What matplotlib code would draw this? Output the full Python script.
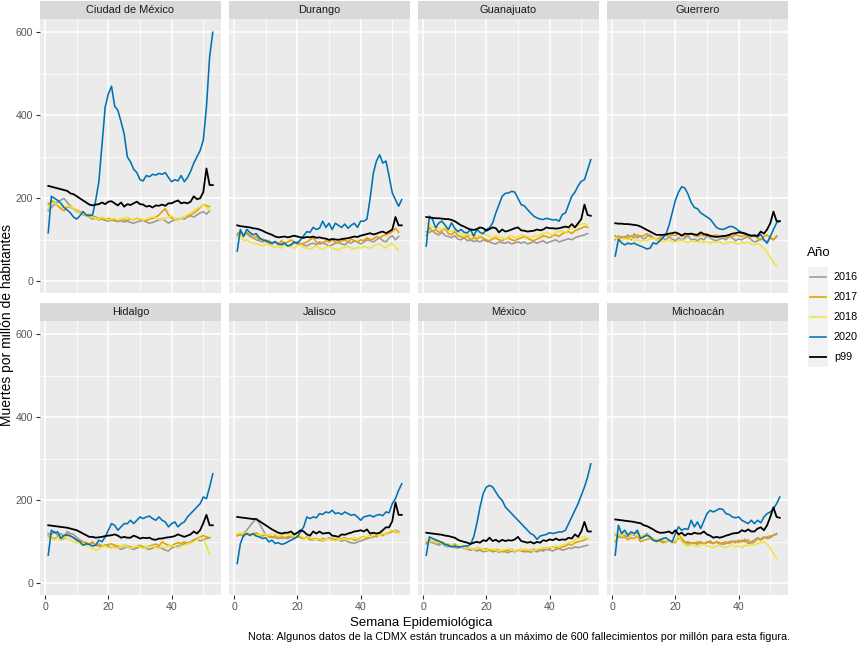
import matplotlib
matplotlib.use("Agg")
import matplotlib.pyplot as plt
from matplotlib.patches import Rectangle
from matplotlib.lines import Line2D
import numpy as np

plt.rcParams['font.family'] = ['Liberation Sans', 'DejaVu Sans']

states = ["Ciudad de México", "Durango", "Guanajuato", "Guerrero",
          "Hidalgo", "Jalisco", "México", "Michoacán"]
series_names = ["2016", "2017", "2018", "2020", "p99"]
colors = ["#999999", "#E69F00", "#F0E442", "#0072B2", "#000000"]

# ---- Ciudad de México ----
cdmx_2016 = [170,178,185,192,196,200,190,182,175,168,165,160,158,155,150,152,148,150,147,145,148,146,144,146,143,145,142,140,143,145,147,143,140,142,145,148,150,146,140,145,148,150,152,150,155,158,155,160,165,168,162,170]
cdmx_2017 = [185,195,190,182,175,170,180,178,175,172,168,165,160,162,158,155,152,150,148,152,150,148,146,150,148,147,150,148,152,150,148,146,150,152,155,160,168,175,160,152,150,148,152,155,158,160,165,170,178,185,182,180]
cdmx_2018 = [175,190,188,185,180,178,182,180,176,170,165,162,160,156,154,152,150,155,152,148,150,152,148,150,152,155,150,148,150,152,148,150,153,155,152,150,148,152,155,158,150,148,152,155,160,165,170,175,180,185,178,172]
cdmx_2020 = [117,205,200,195,188,178,172,165,155,150,158,168,160,158,160,195,240,330,420,452,470,422,412,385,355,300,288,270,262,245,242,255,252,258,256,260,258,262,250,240,245,242,255,240,250,265,285,300,315,340,420,540,600]
cdmx_p99 = [230,228,226,224,222,220,218,212,210,205,200,195,190,185,183,185,186,190,186,192,193,188,183,190,180,186,184,188,192,186,185,180,182,178,183,182,185,182,188,188,192,195,188,190,188,192,205,198,200,215,272,232,232]

# ---- Durango ----
dgo_2016 = [110,118,112,115,108,105,100,98,95,100,92,90,95,88,92,90,85,88,92,95,90,88,85,90,92,88,95,92,90,85,88,92,95,90,88,95,92,98,95,90,95,100,98,95,100,105,98,95,105,110,100,108]
dgo_2017 = [115,120,110,118,112,105,108,100,102,95,98,92,95,90,98,92,95,100,95,90,88,92,95,100,105,95,90,92,98,95,100,95,92,98,100,95,102,98,95,100,98,105,100,102,108,105,110,112,115,120,128,118]
dgo_2018 = [105,112,98,100,95,92,90,88,85,90,88,85,82,85,80,88,85,82,80,85,88,82,80,78,82,85,80,78,82,85,80,78,75,80,82,85,80,78,82,80,85,82,80,85,88,90,85,80,88,92,82,75]
dgo_2020 = [73,125,108,125,118,112,115,105,100,98,95,92,96,90,88,92,85,88,95,92,100,110,120,118,130,125,128,145,130,140,125,140,135,130,138,128,135,140,130,145,145,150,200,260,290,305,285,290,253,213,197,181,197]
dgo_p99 = [135,133,132,131,130,128,127,125,122,118,115,112,108,106,107,108,106,108,110,108,106,105,107,106,108,105,106,104,103,100,102,101,100,102,103,104,106,108,107,110,112,114,116,113,115,118,120,116,120,125,155,135,135]

# ---- Guanajuato ----
gto_2016 = [120,118,122,115,112,118,110,108,105,110,102,100,105,98,100,96,98,95,100,97,95,92,90,95,93,92,95,90,93,95,92,95,90,93,95,92,95,98,92,95,98,100,95,98,100,103,100,105,108,110,112,115]
gto_2017 = [110,130,120,125,118,122,128,115,112,120,110,108,105,110,100,105,102,108,104,100,98,102,105,100,98,102,105,100,98,102,105,108,104,100,98,102,105,110,108,105,110,112,108,115,118,120,115,122,125,128,132,130]
gto_2018 = [140,135,130,132,128,125,130,122,120,125,118,115,112,115,110,112,108,110,115,112,108,105,110,108,105,102,108,110,105,108,112,110,108,105,110,108,112,115,118,115,112,118,120,122,118,125,128,130,135,138,140,135]
gto_2020 = [85,157,149,129,141,145,135,125,141,128,120,125,118,117,125,109,125,118,115,125,129,141,165,185,205,212,213,217,215,200,185,182,173,165,157,153,150,149,152,150,148,149,145,161,165,185,205,215,230,241,245,269,293]
gto_p99 = [155,154,153,152,152,151,150,150,148,145,140,135,132,128,125,124,126,130,128,122,126,130,128,118,125,120,122,125,128,130,123,122,120,121,122,125,123,125,130,128,128,127,128,130,132,130,138,130,140,150,185,160,158]

# ---- Guerrero ----
gro_2016 = [110,100,108,105,112,100,115,105,110,100,108,112,105,100,98,104,100,108,102,98,105,100,104,110,100,102,98,104,100,110,105,100,98,102,104,100,108,105,98,102,100,105,108,100,95,98,102,100,95,105,100,108]
gro_2017 = [100,110,105,108,102,110,105,112,108,110,115,108,104,100,105,110,112,108,112,110,115,112,108,112,115,110,108,112,110,115,108,110,112,108,110,105,110,108,112,110,108,112,105,108,110,104,100,108,112,105,100,110]
gro_2018 = [105,100,98,102,100,105,98,100,96,100,98,102,104,100,98,96,98,100,96,95,98,100,96,94,98,96,95,97,94,96,92,95,94,96,90,92,94,95,92,90,94,92,95,90,88,92,86,80,70,58,45,38]
gro_2020 = [61,101,93,88,92,90,92,88,85,82,78,80,93,90,97,105,113,135,165,195,215,228,225,210,190,178,175,165,160,155,150,140,130,126,125,128,132,132,128,122,118,116,113,110,112,107,113,100,92,108,125,141,145]
gro_p99 = [140,139,139,138,138,137,136,135,132,128,124,120,116,112,112,112,113,115,116,118,115,110,115,114,115,113,112,118,114,112,110,108,107,108,109,110,112,115,116,118,117,115,112,110,110,110,120,115,125,140,168,145,145]

# ---- Hidalgo ----
hgo_2016 = [120,118,125,115,120,112,125,120,118,110,105,100,98,95,100,92,90,88,92,90,86,88,85,82,85,88,84,82,85,88,86,84,82,85,88,86,84,80,78,85,88,90,92,95,98,100,105,108,102,105,108,110]
hgo_2017 = [115,110,108,112,105,108,120,115,110,105,102,100,96,94,98,92,95,90,92,94,95,92,90,88,92,90,88,86,90,92,88,86,90,92,95,90,100,95,92,90,95,98,96,100,95,98,102,108,112,115,112,110]
hgo_2018 = [110,108,105,110,106,112,108,105,100,98,95,92,90,88,85,80,82,88,90,85,88,86,84,90,92,88,85,86,90,88,84,86,88,90,86,84,88,85,90,92,88,86,90,92,95,98,100,105,110,108,90,70]
hgo_2020 = [68,128,122,124,108,116,116,114,110,104,100,92,95,94,90,92,104,100,112,128,144,140,128,136,144,144,152,144,152,160,156,160,162,156,152,160,152,148,136,144,148,136,144,148,160,168,176,184,192,208,204,232,264]
hgo_p99 = [140,139,138,137,136,135,134,132,130,128,124,120,116,112,112,110,111,112,114,115,116,118,115,110,112,110,110,115,112,108,110,109,110,106,105,108,108,110,111,112,114,118,115,112,115,118,125,120,128,145,165,140,140]

# ---- Jalisco ----
jal_2016 = [115,118,120,128,138,148,155,145,130,118,115,112,110,108,112,110,108,112,110,115,112,108,110,105,108,106,104,108,106,110,108,105,104,102,105,100,98,96,100,102,105,108,110,112,115,118,120,118,122,125,128,125]
jal_2017 = [115,118,112,120,115,118,122,116,114,118,112,110,115,112,108,110,112,115,118,114,110,108,112,106,104,108,105,102,106,108,104,106,105,108,110,106,108,104,106,110,112,108,114,116,112,118,115,120,122,126,124,122]
jal_2018 = [120,122,118,124,120,116,118,115,120,118,116,120,118,114,116,118,120,116,112,118,115,110,108,112,105,106,108,104,106,108,105,102,104,106,108,104,106,110,108,112,110,114,112,116,118,115,120,118,125,128,126,122]
jal_2020 = [48,96,116,120,116,120,114,112,108,110,100,104,96,98,94,96,100,104,108,112,124,136,160,156,160,158,168,166,172,170,176,168,170,166,172,168,164,166,160,152,160,162,164,160,164,166,163,172,170,192,204,224,240]
jal_p99 = [160,159,158,157,156,155,155,150,145,140,135,130,126,122,120,122,122,125,118,122,128,125,118,115,125,120,125,120,121,122,115,114,112,118,117,120,122,125,126,128,125,130,120,122,120,122,128,135,135,150,195,165,165]

# ---- México ----
mex_2016 = [95,100,98,95,92,96,90,88,90,86,85,88,84,82,80,82,78,80,76,78,80,76,78,75,78,76,74,78,76,80,78,76,78,75,78,76,80,78,82,80,78,82,84,80,82,85,84,88,86,88,90,92]
mex_2017 = [98,105,100,102,96,100,95,94,92,95,90,88,85,86,84,82,85,80,82,84,80,78,82,80,76,78,80,82,78,80,82,78,76,80,82,80,84,82,86,84,88,86,84,88,90,95,92,98,100,102,105,108]
mex_2018 = [105,100,102,98,100,96,95,92,94,90,92,88,86,84,85,82,84,86,82,80,84,82,80,78,80,82,84,80,78,82,80,84,82,80,78,82,84,86,84,88,86,90,88,92,95,98,100,105,108,110,112,108]
mex_2020 = [68,112,108,105,102,98,94,92,88,90,88,88,90,90,94,112,144,184,216,232,236,232,220,208,200,184,176,168,160,152,144,136,128,120,116,106,114,116,118,122,120,122,124,124,128,144,160,176,192,212,232,256,288]
mex_p99 = [122,121,120,119,118,117,115,114,112,110,105,102,100,98,95,98,100,98,104,102,110,102,105,100,105,102,104,103,106,112,102,100,98,100,96,100,98,104,102,106,104,108,104,106,105,110,108,118,112,125,148,125,125]

# ---- Michoacán ----
mich_2016 = [118,110,120,115,112,118,116,122,110,115,120,112,108,104,106,102,100,104,98,102,110,104,98,100,96,98,94,100,96,98,102,96,100,98,94,96,100,102,98,104,100,106,96,100,104,110,106,112,108,110,116,120]
mich_2017 = [100,115,110,112,105,110,108,115,100,104,106,108,104,100,102,98,100,104,100,98,118,108,100,94,98,96,100,98,95,100,98,96,100,94,98,100,96,100,102,98,104,100,105,95,100,108,104,110,112,114,116,118]
mich_2018 = [120,118,115,122,118,115,120,116,112,118,115,110,108,106,104,106,102,104,100,102,115,100,92,90,94,92,88,92,94,90,88,86,90,92,88,86,90,92,88,90,86,92,90,94,92,96,98,100,95,85,72,60]
mich_2020 = [68,140,120,128,116,124,120,128,108,112,116,112,104,102,104,108,110,104,100,120,136,128,132,130,152,136,148,132,150,168,176,172,176,180,178,168,166,160,158,160,152,148,144,152,144,152,146,160,168,172,180,192,208]
mich_p99 = [154,153,152,151,150,149,148,146,145,140,138,134,130,125,122,122,123,125,120,128,118,122,115,120,118,122,120,120,125,118,115,110,112,110,112,115,117,120,121,122,128,125,130,125,125,132,135,128,140,160,183,160,158]

data = {
    "Ciudad de México": [cdmx_2016, cdmx_2017, cdmx_2018, cdmx_2020, cdmx_p99],
    "Durango": [dgo_2016, dgo_2017, dgo_2018, dgo_2020, dgo_p99],
    "Guanajuato": [gto_2016, gto_2017, gto_2018, gto_2020, gto_p99],
    "Guerrero": [gro_2016, gro_2017, gro_2018, gro_2020, gro_p99],
    "Hidalgo": [hgo_2016, hgo_2017, hgo_2018, hgo_2020, hgo_p99],
    "Jalisco": [jal_2016, jal_2017, jal_2018, jal_2020, jal_p99],
    "México": [mex_2016, mex_2017, mex_2018, mex_2020, mex_p99],
    "Michoacán": [mich_2016, mich_2017, mich_2018, mich_2020, mich_p99],
}

W, H = 860, 645
fig = plt.figure(figsize=(W / 100, H / 100), dpi=100)
fig.patch.set_facecolor("white")

col_x = [40, 229, 418, 607]
pw = 181
row_top = [19, 321]
ph = 274
strip_h = 18

def rect(left, top, w, h):
    return [left / W, 1 - (top + h) / H, w / W, h / H]

for i, st in enumerate(states):
    r, c = divmod(i, 4)
    left, top = col_x[c], row_top[r]
    ax = fig.add_axes(rect(left, top, pw, ph))
    ax.set_facecolor("#EBEBEB")
    ax.set_xlim(-1.6, 55.6)
    ax.set_ylim(-28, 632)
    ax.set_xticks([0, 20, 40])
    ax.set_xticks([10, 30, 50], minor=True)
    ax.set_yticks([0, 200, 400, 600])
    ax.set_yticks([100, 300, 500], minor=True)
    ax.grid(which="major", color="white", lw=1.1)
    ax.grid(which="minor", color="white", lw=0.55)
    ax.set_axisbelow(True)
    for s in ax.spines.values():
        s.set_visible(False)
    ax.tick_params(which="minor", length=0)
    ax.tick_params(which="major", color="#333333", labelcolor="#555555",
                   labelsize=7.6, length=3, width=0.8, pad=2)
    if c != 0:
        ax.tick_params(axis="y", length=0, labelleft=False)
    if r != 1:
        ax.tick_params(axis="x", length=0, labelbottom=False)
    for name, col, vals in zip(series_names, colors, data[st]):
        wk = np.arange(1, len(vals) + 1)
        lw = 1.3 if name == "p99" else 1.15
        ax.plot(wk, vals, color=col, lw=lw, solid_joinstyle="round")
    sax = fig.add_axes(rect(left, top - strip_h, pw, strip_h))
    sax.set_facecolor("#D9D9D9")
    sax.set_xticks([]); sax.set_yticks([])
    for s in sax.spines.values():
        s.set_visible(False)
    sax.text(0.5, 0.5, st, ha="center", va="center", fontsize=7.9,
             color="#1A1A1A", transform=sax.transAxes)

fig.text(7 / W, 1 - 325 / H, "Muertes por millón de habitantes", rotation=90,
         ha="center", va="center", fontsize=10, color="black")
fig.text(421 / W, 1 - 623 / H, "Semana Epidemiológica", ha="center", va="center",
         fontsize=9.5, color="black")
fig.text(790 / W, 1 - 637 / H,
         "Nota: Algunos datos de la CDMX están truncados a un máximo de 600 fallecimientos por millón para esta figura.",
         ha="right", va="center", fontsize=7.75, color="black")

# legend
fig.text(807 / W, 1 - 253 / H, "Año", ha="left", va="center", fontsize=9.5)
lax = fig.add_axes(rect(808, 267, 20, 100))
lax.set_xlim(0, 20)
lax.set_ylim(100, 0)
lax.axis("off")
lax.add_patch(Rectangle((0, 0), 20, 100, color="#F2F2F2", lw=0))
for k, (name, col) in enumerate(zip(series_names, colors)):
    yc = 10 + 20 * k
    lax.add_line(Line2D([2, 18], [yc, yc], color=col, lw=1.3 if name == "p99" else 1.15))
    fig.text(834 / W, 1 - (277 + 20 * k) / H, name, ha="left", va="center",
             fontsize=7.8, color="black")

fig.savefig("out.png", dpi=100)
